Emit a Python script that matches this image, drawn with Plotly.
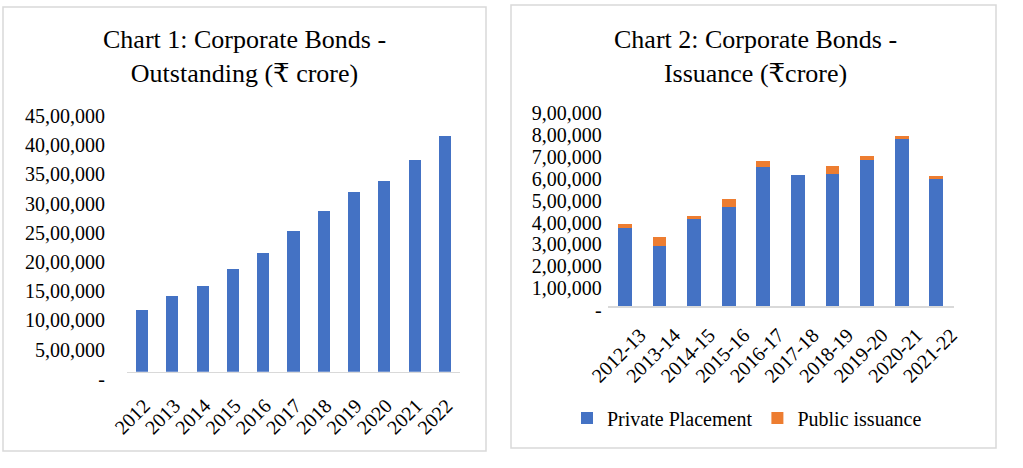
import plotly.graph_objects as go

# ---- data (₹ crore) ----
years = ["2012", "2013", "2014", "2015", "2016", "2017", "2018", "2019", "2020", "2021", "2022"]
outstanding = [1056000, 1296000, 1467000, 1758000, 2032000, 2409000, 2751000, 3076000, 3265000, 3624000, 4035000]

fy = ["2012-13", "2013-14", "2014-15", "2015-16", "2016-17", "2017-18", "2018-19", "2019-20", "2020-21", "2021-22"]
private_placement = [357000, 274000, 398000, 453000, 636000, 598000, 604000, 668000, 764000, 581000]
public_issuance = [18000, 41000, 14000, 37000, 27000, 3000, 37000, 18000, 14000, 14000]

y1_ticks = [0, 500000, 1000000, 1500000, 2000000, 2500000, 3000000, 3500000, 4000000, 4500000]
y1_text = ["-", "5,00,000", "10,00,000", "15,00,000", "20,00,000", "25,00,000",
           "30,00,000", "35,00,000", "40,00,000", "45,00,000"]
y2_ticks = [0, 100000, 200000, 300000, 400000, 500000, 600000, 700000, 800000, 900000]
y2_text = ["-", "1,00,000", "2,00,000", "3,00,000", "4,00,000", "5,00,000",
           "6,00,000", "7,00,000", "8,00,000", "9,00,000"]

BLUE = "#4472C4"
ORANGE = "#ED7D31"
FONT = "Liberation Serif, DejaVu Serif, serif"
W, H = 1023, 468

def px_x(v):
    return v / W

def px_y(v):
    return (H - v) / H

fig = go.Figure()
fig.add_trace(go.Bar(x=years, y=outstanding, marker_color=BLUE, xaxis="x", yaxis="y",
                     showlegend=False, name="Outstanding"))
fig.add_trace(go.Bar(x=fy, y=private_placement, marker_color=BLUE, xaxis="x2", yaxis="y2",
                     name="Private Placement"))
fig.add_trace(go.Bar(x=fy, y=public_issuance, marker_color=ORANGE, xaxis="x2", yaxis="y2",
                     name="Public issuance"))

axis_common = dict(showgrid=False, zeroline=False, ticks="", automargin=False,
                   tickfont=dict(family=FONT, size=20, color="#000"))

fig.update_layout(
    template="none",
    width=W, height=H, autosize=False,
    margin=dict(l=0, r=0, t=0, b=0, pad=0),
    paper_bgcolor="white", plot_bgcolor="white",
    barmode="stack", bargap=0.6,
    hovermode=False,
    font=dict(family=FONT, size=20, color="#000"),
    xaxis=dict(domain=[px_x(127), px_x(460)], anchor="y", type="category",
               tickangle=-45, showline=True, linecolor="#d9d9d9", linewidth=1.5,
               ticklabelstandoff=13, ticklabelshift=2, **axis_common),
    yaxis=dict(domain=[px_y(371.7), px_y(109)], anchor="x", range=[0, 4500000],
               tickvals=y1_ticks, ticktext=y1_text, showline=False,
               ticklabelstandoff=21, ticklabelshift=7, **axis_common),
    xaxis2=dict(domain=[px_x(607.7), px_x(953.5)], anchor="y2", type="category",
                tickangle=-45, showline=True, linecolor="#d9d9d9", linewidth=1.5,
                ticklabelstandoff=8, ticklabelshift=15, **axis_common),
    yaxis2=dict(domain=[px_y(306), px_y(109.2)], anchor="x2", range=[0, 900000],
                tickvals=y2_ticks, ticktext=y2_text, showline=False,
                ticklabelstandoff=5, ticklabelshift=4, **axis_common),
    legend=dict(orientation="h", x=px_x(567), xanchor="left", y=px_y(418), yanchor="middle",
                traceorder="normal",
                font=dict(family=FONT, size=20, color="#000"), bgcolor="rgba(0,0,0,0)"),
    shapes=[
        dict(type="rect", xref="paper", yref="paper", x0=px_x(3), x1=px_x(486),
             y0=px_y(451), y1=px_y(7), line=dict(color="#d9d9d9", width=1.5)),
        dict(type="rect", xref="paper", yref="paper", x0=px_x(511), x1=px_x(996),
             y0=px_y(448), y1=px_y(5), line=dict(color="#d9d9d9", width=1.5)),
    ],
    annotations=[
        dict(text="Chart 1: Corporate Bonds -<br>Outstanding (₹ crore)", xref="paper", yref="paper",
             x=px_x(244), y=px_y(56), xanchor="center", yanchor="middle", showarrow=False,
             font=dict(family=FONT, size=26, color="#000")),
        dict(text="Chart 2: Corporate Bonds -<br>Issuance (₹crore)", xref="paper", yref="paper",
             x=px_x(755), y=px_y(56), xanchor="center", yanchor="middle", showarrow=False,
             font=dict(family=FONT, size=26, color="#000")),
    ],
)

fig.write_html("out.html", config={"displayModeBar": False, "staticPlot": True},
               post_script="document.body.style.margin='0';document.body.style.overflow='hidden';")
